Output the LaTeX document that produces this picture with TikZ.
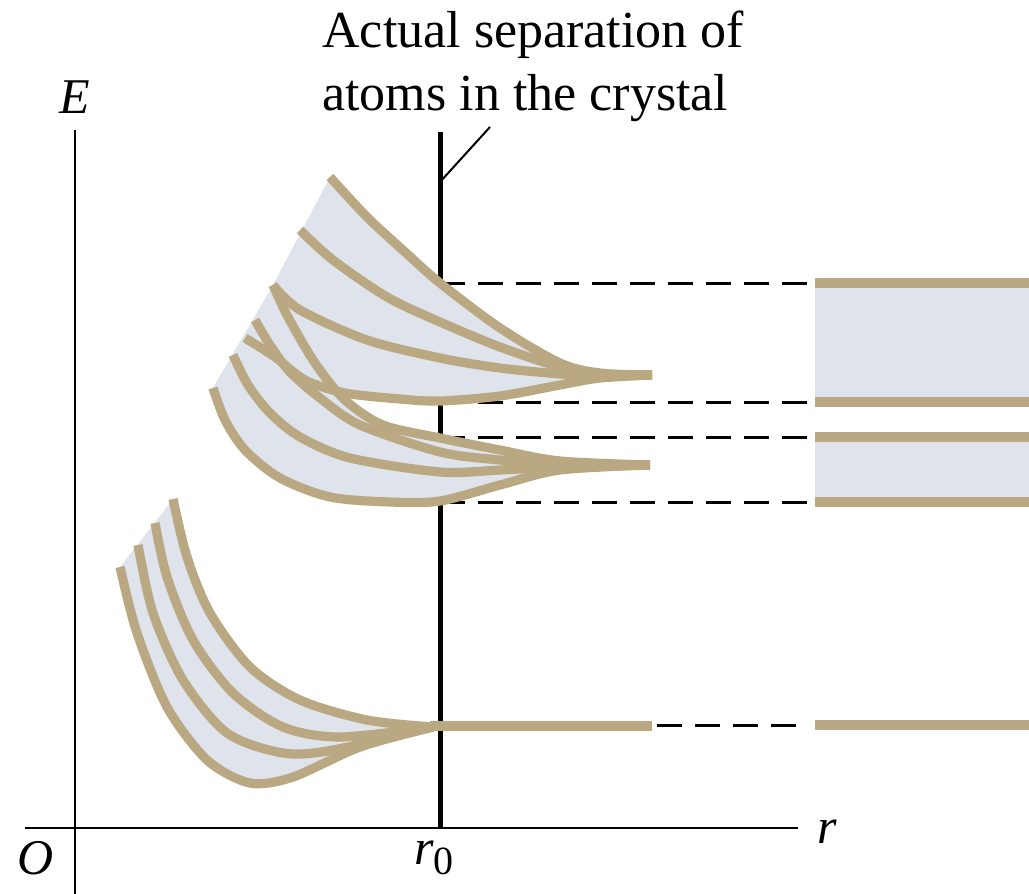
\documentclass[tikz,border=0pt]{standalone}
\usepackage{fontspec}
\setmainfont{Liberation Serif}
\usetikzlibrary{positioning}
\definecolor{levelTan}{RGB}{185,168,130}
\definecolor{bandGray}{RGB}{223,227,236}

\begin{document}
\begin{tikzpicture}[x=0.5pt, y=-0.5pt,
    level/.style={draw=levelTan, line width=4.6pt, line join=round},
    bandline/.style={draw=levelTan, line width=5pt},
    bandfill/.style={fill=bandGray},
    guide/.style={line width=1.5pt, dash pattern=on 12.5pt off 6.5pt},
    lbl/.style={font=\fontsize{25}{30}\selectfont\itshape, inner sep=0pt}]
    \useasboundingbox (0,0) rectangle (1029,894);
    % axes and r0
    \draw[line width=1.2pt] (75,130) -- (75,894);
    \draw[line width=1.2pt] (25,828) -- (798,828);
    \draw[line width=2.5pt] (440,828) -- (440,132);
    \node[lbl] (E) at (75,97) {E};
    \node[lbl] (O) at (36,858) {O};
    \node[lbl] (r) at (827,832) {r};
    \node[lbl] (rzero) at (434,858) {r\raisebox{-0.45ex}{\upshape\fontsize{20}{20}\selectfont 0}};
    % caption and leader
    \node[font=\fontsize{26}{31.5}\selectfont, align=left, anchor=north west, inner sep=0pt] (caption) at (322,10)
        {Actual separation of\\atoms in the crystal};
    \coordinate (leadA) at (440,182);
    \coordinate (leadB) at (490,127);
    \draw[line width=1pt] (leadA) -- (leadB);
    % dashed guides
    \foreach \y in {283,402,437,502}
        \draw[guide] (440,\y) -- (808,\y);
    \draw[guide] (657,725) -- (808,725);
    % crystal bands on the right
    \fill[bandfill] (815,283) rectangle (1029,402);
    \fill[bandfill] (815,437) rectangle (1029,502);
    \foreach \y in {283,402,437,502,725}
        \draw[bandline] (815,\y) -- (1029,\y);
    % band fills
    \fill[bandfill] plot[smooth] coordinates {(330,177) (367,217) (405,252) (440,283) (500,328) (560,363) (600,373) (652,375)}
        -- plot[smooth] coordinates {(652,375) (600,378) (560,385) (500,396) (440,401) (400,399) (345,393) (305,380) (275,357) (245,338)} -- cycle;
    \fill[bandfill] plot[smooth] coordinates {(273,285) (288,317) (315,363) (345,400) (383,425) (440,438) (500,450) (560,461) (650,465)}
        -- plot[smooth] coordinates {(650,465) (560,470) (500,485) (440,501) (390,502) (330,497) (280,478) (245,450) (225,420) (213,388)} -- cycle;
    \fill[bandfill] plot[smooth] coordinates {(173,499) (187,557) (210,613) (250,667) (300,700) (367,720) (433,727)}
        -- plot[smooth] coordinates {(433,727) (360,747) (293,777) (250,783) (207,760) (167,707) (137,633) (120,567)} -- cycle;
    % upper band levels
    \draw[level] plot[smooth] coordinates {(330,177) (367,217) (405,252) (440,283) (500,328) (560,363) (600,373) (652,375)};
    \draw[level] plot[smooth] coordinates {(300,230) (333,260) (387,297) (440,322) (500,347) (560,367) (600,374) (652,375)};
    \draw[level] plot[smooth] coordinates {(273,285) (300,310) (367,340) (440,358) (500,368) (560,374) (600,376) (652,375)};
    \draw[level] plot[smooth] coordinates {(245,338) (275,357) (305,380) (345,393) (400,399) (440,401) (500,396) (560,385) (600,378) (652,375)};
    % lower band levels
    \draw[level] plot[smooth] coordinates {(273,285) (288,317) (315,363) (345,400) (383,425) (440,438) (500,450) (560,461) (650,465)};
    \draw[level] plot[smooth] coordinates {(255,320) (270,345) (290,372) (320,398) (360,425) (440,452) (500,460) (560,464) (650,465)};
    \draw[level] plot[smooth] coordinates {(233,355) (248,385) (270,413) (300,437) (350,458) (440,472) (500,470) (560,467) (650,465)};
    \draw[level] plot[smooth] coordinates {(213,388) (225,420) (245,450) (280,478) (330,497) (390,502) (440,501) (500,485) (560,470) (650,465)};
    % lowest level
    \draw[level] plot[smooth] coordinates {(173,499) (187,557) (210,613) (250,667) (300,700) (367,720) (433,727)};
    \draw[level] plot[smooth] coordinates {(155,523) (167,577) (193,640) (233,693) (283,727) (340,737) (433,727)};
    \draw[level] plot[smooth] coordinates {(138,545) (153,613) (183,680) (227,733) (283,753) (333,750) (433,727)};
    \draw[level] plot[smooth] coordinates {(120,567) (137,633) (167,707) (207,760) (250,783) (293,777) (360,747) (433,727)};
    \draw[bandline] (430,726) -- (652,726);
\end{tikzpicture}
\end{document}
